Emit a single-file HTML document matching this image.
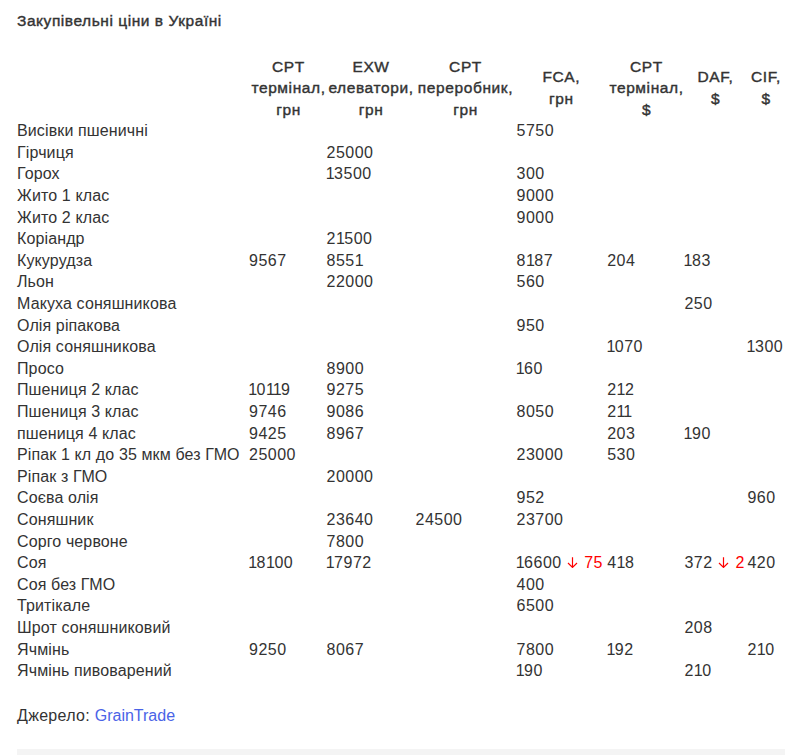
<!DOCTYPE html>
<html lang="uk">
<head>
<meta charset="utf-8">
<title>Закупівельні ціни в Україні</title>
<style>
html,body{margin:0;padding:0;background:#fff;}
body{width:801px;height:755px;overflow:hidden;position:relative;font-family:"Liberation Sans",sans-serif;color:#333;}
.title{position:absolute;left:17px;top:11px;font-size:15.5px;-webkit-text-stroke:0.4px #333;letter-spacing:0.55px;line-height:20px;white-space:nowrap;}
.hd{position:absolute;top:55.5px;height:64.8px;display:flex;align-items:center;justify-content:center;text-align:center;font-size:15.5px;-webkit-text-stroke:0.4px #333;letter-spacing:0.6px;line-height:21.6px;white-space:nowrap;}
.r{position:absolute;left:0;width:801px;height:21.6px;line-height:21.6px;font-size:16px;letter-spacing:0.12px;white-space:nowrap;}
.r>span{position:absolute;top:0;}
.r .dn{position:static;color:#f00;}
.r .n{letter-spacing:0.5px}
.o{letter-spacing:-0.5px}.o0{margin-left:-0.8px}.o2{margin-left:-1.75px}
.ar{display:inline-block;vertical-align:baseline;margin:0 6px 0 5.5px;position:relative;top:-0.4px;}
.ar2{margin-left:5.4px;margin-right:6.4px}
.c0{left:17px}.c1{left:249px}.c2{left:326.5px}.c3{left:415.5px}.c4{left:516.5px}.c5{left:607.2px}.c6{left:684.4px}.c7{left:747.4px}
.src{position:absolute;left:17px;top:705px;font-size:16px;letter-spacing:0.3px;line-height:21.6px;white-space:nowrap;}
.src a{color:#4a63e7;text-decoration:none;letter-spacing:0;}
.bar{position:absolute;left:17px;top:749px;width:768px;height:6px;background:#f4f4f4;}
</style>
</head>
<body>
<div class="title">Закупівельні ціни в Україні</div>
<div class="hd" style="left:250.5px;width:76px">CPT<br>термінал,<br>грн</div>
<div class="hd" style="left:326.5px;width:89px">EXW<br>елеватори,<br>грн</div>
<div class="hd" style="left:415.5px;width:100px">CPT<br>переробник,<br>грн</div>
<div class="hd" style="left:516px;width:90.6px">FCA,<br>грн</div>
<div class="hd" style="left:608px;width:77px">CPT<br>термінал,<br>$</div>
<div class="hd" style="left:684px;width:63px">DAF,<br>$</div>
<div class="hd" style="left:747px;width:38px">CIF,<br>$</div>
<div class="r" style="top:120.2px"><span class="c0">Висівки пшеничні</span><span class="c4 n">5750</span></div>
<div class="r" style="top:141.8px"><span class="c0">Гірчиця</span><span class="c2 n">25000</span></div>
<div class="r" style="top:163.4px"><span class="c0">Горох</span><span class="c2 n"><span class="o0 o">1</span>3500</span><span class="c4 n">300</span></div>
<div class="r" style="top:185.0px"><span class="c0">Жито 1 клас</span><span class="c4 n">9000</span></div>
<div class="r" style="top:206.6px"><span class="c0">Жито 2 клас</span><span class="c4 n">9000</span></div>
<div class="r" style="top:228.2px"><span class="c0">Коріандр</span><span class="c2 n">2<span class="o">1</span>500</span></div>
<div class="r" style="top:249.8px"><span class="c0">Кукурудза</span><span class="c1 n">9567</span><span class="c2 n">8551</span><span class="c4 n">8<span class="o">1</span>87</span><span class="c5 n">204</span><span class="c6 n"><span class="o0 o">1</span>83</span></div>
<div class="r" style="top:271.4px"><span class="c0">Льон</span><span class="c2 n">22000</span><span class="c4 n">560</span></div>
<div class="r" style="top:293.0px"><span class="c0">Макуха соняшникова</span><span class="c6 n">250</span></div>
<div class="r" style="top:314.6px"><span class="c0">Олія ріпакова</span><span class="c4 n">950</span></div>
<div class="r" style="top:336.2px"><span class="c0">Олія соняшникова</span><span class="c5 n"><span class="o0 o">1</span>070</span><span class="c7 n"><span class="o0 o">1</span>300</span></div>
<div class="r" style="top:357.8px"><span class="c0">Просо</span><span class="c2 n">8900</span><span class="c4 n"><span class="o0 o">1</span>60</span></div>
<div class="r" style="top:379.4px"><span class="c0">Пшениця 2 клас</span><span class="c1 n"><span class="o0 o">1</span>0<span class="o">1</span><span class="o2 o">1</span>9</span><span class="c2 n">9275</span><span class="c5 n">2<span class="o">1</span>2</span></div>
<div class="r" style="top:401.0px"><span class="c0">Пшениця 3 клас</span><span class="c1 n">9746</span><span class="c2 n">9086</span><span class="c4 n">8050</span><span class="c5 n">2<span class="o">1</span><span class="o2">1</span></span></div>
<div class="r" style="top:422.6px"><span class="c0">пшениця 4 клас</span><span class="c1 n">9425</span><span class="c2 n">8967</span><span class="c5 n">203</span><span class="c6 n"><span class="o0 o">1</span>90</span></div>
<div class="r" style="top:444.2px"><span class="c0">Ріпак 1 кл до 35 мкм без ГМО</span><span class="c1 n">25000</span><span class="c4 n">23000</span><span class="c5 n">530</span></div>
<div class="r" style="top:465.8px"><span class="c0">Ріпак з ГМО</span><span class="c2 n">20000</span></div>
<div class="r" style="top:487.4px"><span class="c0">Соєва олія</span><span class="c4 n">952</span><span class="c7 n">960</span></div>
<div class="r" style="top:509.0px"><span class="c0">Соняшник</span><span class="c2 n">23640</span><span class="c3 n">24500</span><span class="c4 n">23700</span></div>
<div class="r" style="top:530.6px"><span class="c0">Сорго червоне</span><span class="c2 n">7800</span></div>
<div class="r" style="top:552.2px"><span class="c0">Соя</span><span class="c1 n"><span class="o0 o">1</span>8<span class="o">1</span>00</span><span class="c2 n"><span class="o0 o">1</span>7972</span><span class="c4 n"><span class="o0 o">1</span>6600<span class="dn"><svg class="ar" width="11" height="11" viewBox="0 0 11 11"><path d="M5.5 0.3V10.2M1.0 6.0L5.5 10.4L10.0 6.0" fill="none" stroke="#f00" stroke-width="1.2"/></svg>75</span></span><span class="c5 n">4<span class="o">1</span>8</span><span class="c6 n">372<span class="dn"><svg class="ar ar2" width="11" height="11" viewBox="0 0 11 11"><path d="M5.5 0.3V10.2M1.0 6.0L5.5 10.4L10.0 6.0" fill="none" stroke="#f00" stroke-width="1.2"/></svg>2</span></span><span class="c7 n">420</span></div>
<div class="r" style="top:573.8px"><span class="c0">Соя без ГМО</span><span class="c4 n">400</span></div>
<div class="r" style="top:595.4px"><span class="c0">Тритікале</span><span class="c4 n">6500</span></div>
<div class="r" style="top:617.0px"><span class="c0">Шрот соняшниковий</span><span class="c6 n">208</span></div>
<div class="r" style="top:638.6px"><span class="c0">Ячмінь</span><span class="c1 n">9250</span><span class="c2 n">8067</span><span class="c4 n">7800</span><span class="c5 n"><span class="o0 o">1</span>92</span><span class="c7 n">2<span class="o">1</span>0</span></div>
<div class="r" style="top:660.2px"><span class="c0">Ячмінь пивоварений</span><span class="c4 n"><span class="o0 o">1</span>90</span><span class="c6 n">2<span class="o">1</span>0</span></div>
<div class="src">Джерело: <a>GrainTrade</a></div>
<div class="bar"></div>
</body>
</html>
